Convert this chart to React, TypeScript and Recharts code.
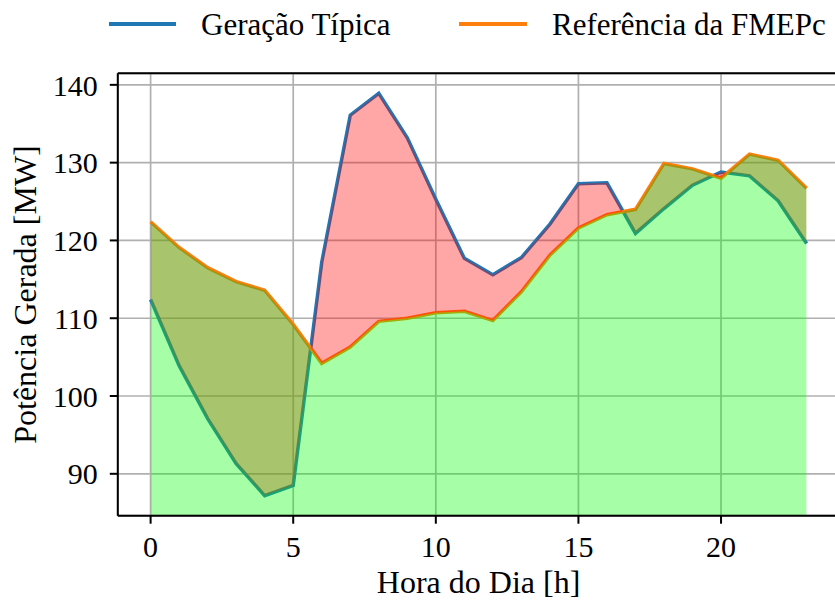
import { useEffect, useRef, useState } from "react";
import {
   ComposedChart,
   Line,
   Area,
   XAxis,
   YAxis,
   CartesianGrid,
   ReferenceLine,
} from "recharts";

const hours = [0, 1, 2, 3, 4, 5, 6, 7, 8, 9, 10, 11, 12, 13, 14, 15, 16, 17, 18, 19, 20, 21, 22, 23];
const geracaoTipica = [
   112.4, 103.9, 97.1, 91.3, 87.2, 88.5, 117.2, 136.1, 138.9, 133.2, 125.3, 117.7,
   115.6, 117.8, 122.1, 127.3, 127.4, 120.9, 124.1, 127.1, 128.8, 128.3, 125.1, 119.6,
];
const referenciaFmepc = [
   122.4, 119.1, 116.5, 114.7, 113.6, 109.2, 104.2, 106.3, 109.6, 110.0, 110.7, 110.9,
   109.7, 113.4, 118.1, 121.6, 123.3, 124.0, 129.9, 129.2, 128.0, 131.1, 130.3, 126.7,
];
const xTicks = [0, 5, 10, 15, 20];
const yTicks = [90, 100, 110, 120, 130, 140];

const data = hours.map((h, i) => ({
   hora: h,
   tipica: geracaoTipica[i],
   referencia: referenciaFmepc[i],
}));

// matplotlib style 5% margins
const allValues = [...geracaoTipica, ...referenciaFmepc];
const yLo = Math.min(...allValues);
const yHi = Math.max(...allValues);
const yPad = (yHi - yLo) * 0.05;
const yDomain = [yLo - yPad, yHi + yPad];
const xPad = (hours[hours.length - 1] - hours[0]) * 0.05;
const xDomain = [hours[0] - xPad, hours[hours.length - 1] + xPad];

const FONT = "'Liberation Serif', 'Times New Roman', serif";
const BLUE = "#1f77b4";
const ORANGE = "#ff7f0e";

const XTick = ({ x, y, payload }: any) => (
   <text x={x} y={y} dy="0.71em" textAnchor="middle" fontSize={30} fontFamily={FONT} fill="#000">
      {payload.value}
   </text>
);

const YTick = ({ x, y, payload }: any) => (
   <text x={x} y={y} dy="0.355em" textAnchor="end" fontSize={30} fontFamily={FONT} fill="#000">
      {payload.value}
   </text>
);

const YLabel = ({ viewBox }: any) => {
   const cy = viewBox.y + viewBox.height / 2;
   return (
      <text
         x={35.5}
         y={cy}
         transform={`rotate(-90 35.5 ${cy})`}
         textAnchor="middle"
         fontSize={32}
         fontFamily={FONT}
         fill="#000"
      >
         Potência Gerada [MW]
      </text>
   );
};

const XLabel = ({ viewBox }: any) => {
   const cx = viewBox.x + viewBox.width / 2;
   return (
      <text x={cx} y={593} textAnchor="middle" fontSize={32} fontFamily={FONT} fill="#000">
         Hora do Dia [h]
      </text>
   );
};

export default function App() {
   const boxRef = useRef<HTMLDivElement>(null);
   const [clips, setClips] = useState({ ub: "", uo: "", ao: "" });

   // copy the rendered area outlines into clip paths so the fills split where the lines cross
   useEffect(() => {
      let timer = 0;
      let tries = 0;
      const read = () => {
         const root = boxRef.current;
         const get = (cls: string) =>
            root?.querySelector(`.${cls} path.recharts-area-area`)?.getAttribute("d") ?? "";
         const next = { ub: get("fill-red"), uo: get("fill-green"), ao: get("area-ao") };
         if (next.ub && next.uo && next.ao) {
            setClips(next);
            return;
         }
         if (tries++ < 300) timer = window.setTimeout(read, 16);
      };
      timer = window.setTimeout(read, 0);
      return () => clearTimeout(timer);
   }, []);

   return (
      <div
         ref={boxRef}
         style={{
            position: "absolute",
            left: 0,
            top: 0,
            width: 835,
            height: 601,
            overflow: "hidden",
            background: "#fff",
            fontFamily: FONT,
         }}
      >
         <style>{`
            .fill-green path.recharts-area-area { clip-path: url(#clip-ub); }
            .fill-red path.recharts-area-area { clip-path: url(#clip-ao); }
            .fill-olive path.recharts-area-area { clip-path: url(#clip-uo); }
         `}</style>
         <svg width={0} height={0} style={{ position: "absolute" }}>
            <defs>
               <clipPath id="clip-ub">
                  <path d={clips.ub} />
               </clipPath>
               <clipPath id="clip-uo">
                  <path d={clips.uo} />
               </clipPath>
               <clipPath id="clip-ao">
                  <path d={clips.ao} />
               </clipPath>
            </defs>
         </svg>

         {/* Legend */}
         <svg width={835} height={60} style={{ position: "absolute", left: 0, top: 0 }}>
            <line x1={109} y1={24} x2={176} y2={24} stroke={BLUE} strokeWidth={4} />
            <text x={201} y={35} fontSize={31} fontFamily={FONT} fill="#000">
               Geração Típica
            </text>
            <line x1={459} y1={24} x2={527} y2={24} stroke={ORANGE} strokeWidth={4} />
            <text x={552} y={35} fontSize={31} fontFamily={FONT} fill="#000">
               Referência da FMEPc
            </text>
         </svg>

         <ComposedChart
            width={850}
            height={601}
            data={data}
            margin={{ top: 73.3, right: 10.6, bottom: 0, left: 0 }}
         >
            <CartesianGrid stroke="#b0b0b0" strokeWidth={1.7} />
            <XAxis
               dataKey="hora"
               type="number"
               domain={xDomain}
               ticks={xTicks}
               height={85.3}
               tick={<XTick />}
               tickSize={8}
               tickMargin={12}
               axisLine={{ stroke: "#000", strokeWidth: 2 }}
               tickLine={{ stroke: "#000", strokeWidth: 2 }}
               label={<XLabel />}
            />
            <YAxis
               type="number"
               domain={yDomain}
               ticks={yTicks}
               width={117.8}
               tick={<YTick />}
               tickSize={8}
               tickMargin={12}
               axisLine={{ stroke: "#000", strokeWidth: 2 }}
               tickLine={{ stroke: "#000", strokeWidth: 2 }}
               label={<YLabel />}
            />
            <ReferenceLine y={yDomain[1]} stroke="#000" strokeWidth={2} />

            <Line
               dataKey="tipica"
               stroke={BLUE}
               strokeWidth={3.5}
               dot={false}
               activeDot={false}
               isAnimationActive={false}
               zIndex={50}
            />
            <Line
               dataKey="referencia"
               stroke={ORANGE}
               strokeWidth={3.5}
               dot={false}
               activeDot={false}
               isAnimationActive={false}
               zIndex={50}
            />

            <Area
               dataKey="referencia"
               className="fill-green"
               fill="#00ff00"
               fillOpacity={0.35}
               stroke="none"
               activeDot={false}
               isAnimationActive={false}
            />
            <Area
               dataKey="tipica"
               className="fill-red"
               fill="#ff0000"
               fillOpacity={0.35}
               stroke="none"
               activeDot={false}
               isAnimationActive={false}
            />
            <Area
               dataKey="tipica"
               baseValue="dataMax"
               className="fill-olive"
               fill="#6e9d0a"
               fillOpacity={0.6}
               stroke="none"
               activeDot={false}
               isAnimationActive={false}
            />
            <Area
               dataKey="referencia"
               baseValue="dataMax"
               className="area-ao"
               fill="none"
               fillOpacity={0}
               stroke="none"
               activeDot={false}
               isAnimationActive={false}
            />
         </ComposedChart>
      </div>
   );
}
